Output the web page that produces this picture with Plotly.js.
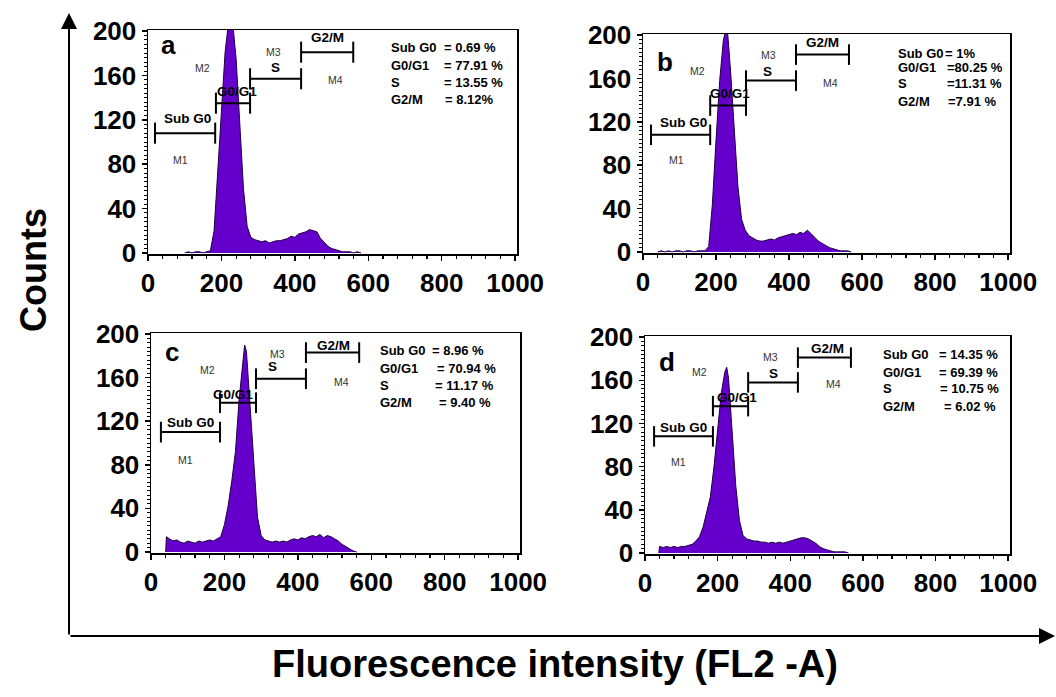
<!DOCTYPE html>
<html><head><meta charset="utf-8">
<script src="https://cdn.plot.ly/plotly-3.0.1.min.js"></script>
<style>html,body{margin:0;padding:0;background:#fff}#chart{width:1056px;height:697px}</style>
</head><body><div id="chart"></div>
<script>
// ---------------- DATA ----------------
const panelLetters = ['a', 'b', 'c', 'd'];
const phaseNames = ['Sub G0', 'G0/G1', 'S', 'G2/M'];
const markerNames = ['M1', 'M2', 'M3', 'M4'];
const xTickVals = [0, 200, 400, 600, 800, 1000];
const yTickVals = [0, 40, 80, 120, 160, 200];

const histX_a = [100,110,120,130,140,150,160,170,180,190,200,210,220,230,240,250,260,270,280,290,300,310,320,330,340,350,360,370,380,390,400,410,420,430,440,450,460,470,480,490,500,510,520,530,540,550,560,570,580];
const histY_a = [0,1,0,1,1,0,1,2,20,77,129,181,210,210,175,118,58,24,14,12,11,10,11,9,10,11,11,12,13,15,14,17,18,19,21,20,19,13,9,6,4,3,2,1,1,1,0,1,0];

const histX_b = [40,50,60,70,80,90,100,110,120,130,140,150,160,170,180,190,200,210,220,230,240,250,260,270,280,290,300,310,320,330,340,350,360,370,380,390,400,410,420,430,440,450,460,470,480,490,500,510,520,530,540,550,560,570];
const histY_b = [0,1,0,1,0,1,1,0,1,1,0,1,1,1,5,44,103,158,195,210,166,108,60,30,20,15,13,11,10,10,11,12,11,13,14,15,16,17,16,18,17,20,17,13,10,8,6,4,3,2,1,1,1,0];

const histX_c = [40,42,50,60,70,80,90,100,110,120,130,140,150,160,170,180,190,200,210,220,230,240,250,255,260,270,280,290,300,310,320,330,340,350,360,370,380,390,400,410,420,430,440,450,460,470,480,490,500,510,520,530,540,550,560];
const histY_c = [0,14,12,10,11,9,8,10,9,8,10,9,10,11,10,12,14,25,42,65,92,140,178,190,184,134,74,32,15,11,10,9,10,9,10,9,11,12,11,13,12,14,15,14,16,13,15,14,12,10,7,5,3,1,0];

const histX_d = [38,40,50,60,70,80,90,100,110,120,130,140,150,160,170,180,190,200,210,220,225,230,240,250,260,270,280,290,300,310,320,330,340,350,360,370,380,390,400,410,420,430,440,450,460,470,480,490,500,510,520,530,540,550,560];
const histY_d = [0,6,5,6,5,6,5,6,6,7,8,11,15,24,38,52,80,113,148,168,172,162,112,62,30,16,13,12,11,11,10,10,9,10,9,10,9,10,11,12,13,14,14,13,11,9,6,4,3,2,1,1,1,1,0];

// gate (marker) ranges in FL2 channel units, and their count level
const gateStart_a = [19, 185, 278, 417];
const gateEnd_a   = [183, 278, 417, 559];
const gateLevel_a = [108, 135, 157, 181];
const gateStart_b = [22, 184, 282, 419];
const gateEnd_b   = [184, 282, 419, 564];
const gateLevel_b = [108, 135, 158, 182];
const gateStart_c = [27, 188, 286, 422];
const gateEnd_c   = [188, 286, 422, 567];
const gateLevel_c = [110, 137, 159, 183];
const gateStart_d = [25, 187, 284, 421];
const gateEnd_d   = [187, 284, 421, 567];
const gateLevel_d = [108, 136, 158, 181];

const statValues_a = ['= 0.69 %', '= 77.91 %', '= 13.55 %', '= 8.12%'];
const statValues_b = ['= 1%', '=80.25 %', '=11.31 %', '=7.91 %'];
const statValues_c = ['= 8.96 %', '= 70.94 %', '= 11.17 %', '= 9.40 %'];
const statValues_d = ['= 14.35 %', '= 69.39 %', '= 10.75 %', '= 6.02 %'];

// ---------------- LAYOUT / STYLE ----------------
const W = 1056, H = 697;
const PX = v => v / W, PY = v => 1 - v / H;
const FONT = 'Liberation Sans, Arial, Helvetica, sans-serif';

const hists = [[histX_a, histY_a], [histX_b, histY_b], [histX_c, histY_c], [histX_d, histY_d]];
const gates = [[gateStart_a, gateEnd_a, gateLevel_a], [gateStart_b, gateEnd_b, gateLevel_b],
               [gateStart_c, gateEnd_c, gateLevel_c], [gateStart_d, gateEnd_d, gateLevel_d]];
const stats = [statValues_a, statValues_b, statValues_c, statValues_d];

// pixel geometry of each panel box and text placements
const geo = [
  {xd: [148, 517], yd: [30, 254], letter: [168, 45],
   phaseLbl: [[187,118],[237,91],[275,68],[327,37]], mLbl: [[180,160],[202,68],[273,52],[335,80]],
   statX: 389, valX: [442,442,442,443], statY: [48,65,82,99]},
  {xd: [643, 1010], yd: [34, 253], letter: [665, 62],
   phaseLbl: [[683,122],[730,93],[767,72],[822,43]], mLbl: [[676,160],[697,71],[768,55],[830,83]],
   statX: 896, valX: [943,945,945,946], statY: [53,68,84,101]},
  {xd: [151, 520], yd: [333, 553], letter: [172, 352],
   phaseLbl: [[190,422],[233,394],[272,367],[333,345]], mLbl: [[185,460],[207,370],[277,354],[341,382]],
   statX: 378, valX: [430,435,433,437], statY: [350,368,385,402]},
  {xd: [645, 1010], yd: [336, 554], letter: [667, 362],
   phaseLbl: [[683,427],[737,397],[773,373],[827,348]], mLbl: [[678,462],[699,372],[770,357],[833,384]],
   statX: 881, valX: [937,937,938,942], statY: [355,372,388,406]}
];

const traces = [];
const layout = {
  width: W, height: H, margin: {l: 0, r: 0, t: 0, b: 0},
  paper_bgcolor: '#fff', plot_bgcolor: '#fff', showlegend: false,
  font: {family: FONT, color: '#000'}, annotations: []
};
const CAP = 9.5;

for (let i = 0; i < 4; i++) {
  const n = i === 0 ? '' : String(i + 1);
  const xa = 'x' + n, ya = 'y' + n;
  const g = geo[i];
  traces.push({
    type: 'scatter', mode: 'lines', x: hists[i][0], y: hists[i][1], xaxis: xa, yaxis: ya,
    fill: 'tozeroy', fillcolor: '#6500cc', line: {color: '#1d0040', width: 1}, hoverinfo: 'skip'
  });
  const [gs, ge, gl] = gates[i];
  const gx = [], gy = [];
  for (let k = 0; k < gs.length; k++) {
    gx.push(gs[k], gs[k], null, gs[k], ge[k], null, ge[k], ge[k], null);
    gy.push(gl[k] - CAP, gl[k] + CAP, null, gl[k], gl[k], null, gl[k] - CAP, gl[k] + CAP, null);
  }
  traces.push({type: 'scatter', mode: 'lines', x: gx, y: gy, xaxis: xa, yaxis: ya,
    line: {color: '#000', width: 2}, hoverinfo: 'skip'});

  layout['xaxis' + n] = {
    domain: [PX(g.xd[0]), PX(g.xd[1])], anchor: ya, range: [0, 1005],
    tickmode: 'array', tickvals: xTickVals, ticktext: xTickVals.map(String),
    ticks: 'outside', ticklen: 5, tickwidth: 1.5, tickcolor: '#000',
    minor: {tickmode: 'linear', tick0: 0, dtick: 40, ticks: 'outside', ticklen: 3, tickwidth: 1.2, tickcolor: '#000'},
    showline: true, mirror: true, linecolor: '#000', linewidth: 1.5,
    showgrid: false, zeroline: false,
    tickfont: {family: FONT, size: 26, weight: 'bold', color: '#000'}
  };
  layout['yaxis' + n] = {
    domain: [PY(g.yd[1]), PY(g.yd[0])], anchor: xa, range: [-1, 201],
    tickmode: 'array', tickvals: yTickVals, ticktext: yTickVals.map(String),
    ticks: 'outside', ticklen: 5, tickwidth: 1.5, tickcolor: '#000',
    minor: {tickmode: 'linear', tick0: 0, dtick: 4, ticks: 'outside', ticklen: 3, tickwidth: 1, tickcolor: '#000'},
    showline: true, mirror: true, linecolor: '#000', linewidth: 1.5,
    showgrid: false, zeroline: false,
    tickfont: {family: FONT, size: 26, weight: 'bold', color: '#000'}
  };

  const A = layout.annotations;
  A.push({xref: 'paper', yref: 'paper', x: PX(g.letter[0]), y: PY(g.letter[1]), text: panelLetters[i],
    showarrow: false, font: {size: 26, weight: 'bold'}, xanchor: 'center', yanchor: 'middle'});
  for (let k = 0; k < 4; k++) {
    A.push({xref: 'paper', yref: 'paper', x: PX(g.phaseLbl[k][0]), y: PY(g.phaseLbl[k][1]), text: phaseNames[k],
      showarrow: false, font: {size: 13.5, weight: 'bold'}, xanchor: 'center', yanchor: 'middle'});
    A.push({xref: 'paper', yref: 'paper', x: PX(g.mLbl[k][0]), y: PY(g.mLbl[k][1]), text: markerNames[k],
      showarrow: false, font: {size: 10.5, color: '#333'}, xanchor: 'center', yanchor: 'middle'});
    A.push({xref: 'paper', yref: 'paper', x: PX(g.statX), y: PY(g.statY[k]), text: phaseNames[k],
      showarrow: false, font: {size: 13, weight: 'bold'}, xanchor: 'left', yanchor: 'middle'});
    A.push({xref: 'paper', yref: 'paper', x: PX(g.valX[k]), y: PY(g.statY[k]), text: stats[i][k],
      showarrow: false, font: {size: 13, weight: 'bold'}, xanchor: 'left', yanchor: 'middle'});
  }
}

// big outer axes with arrows and titles
layout.annotations.push(
  {xref: 'paper', yref: 'paper', x: PX(69), y: PY(13), ax: 0, ay: 623, axref: 'pixel', ayref: 'pixel',
   text: '', showarrow: true, arrowhead: 2, arrowsize: 1.6, arrowwidth: 2, arrowcolor: '#000', standoff: 0},
  {xref: 'paper', yref: 'paper', x: PX(1055), y: PY(636), ax: -986, ay: 0, axref: 'pixel', ayref: 'pixel',
   text: '', showarrow: true, arrowhead: 2, arrowsize: 1.6, arrowwidth: 2, arrowcolor: '#000', standoff: 0},
  {xref: 'paper', yref: 'paper', x: PX(33), y: PY(270), text: 'Counts', textangle: -90, showarrow: false,
   font: {size: 36, weight: 'bold'}, xanchor: 'center', yanchor: 'middle'},
  {xref: 'paper', yref: 'paper', x: PX(555), y: PY(664), text: 'Fluorescence intensity (FL2 -A)', showarrow: false,
   font: {size: 38, weight: 'bold'}, xanchor: 'center', yanchor: 'middle'}
);

Plotly.newPlot('chart', traces, layout, {staticPlot: true, displayModeBar: false});
</script></body></html>
